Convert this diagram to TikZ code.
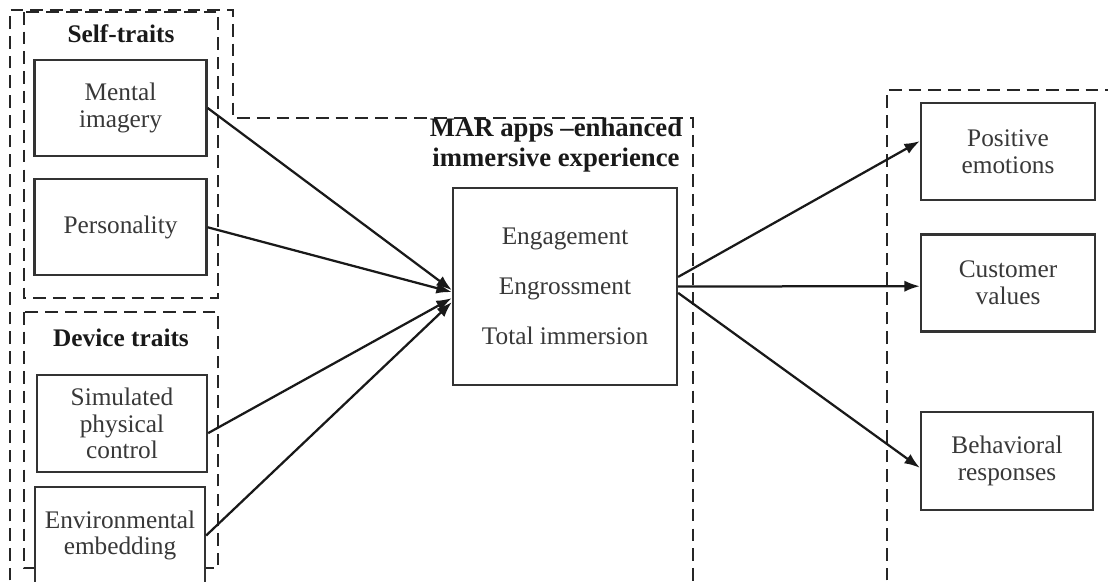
\documentclass[tikz,border=0pt]{standalone}
\usepackage{fontspec}
\setmainfont{Liberation Serif}
\usepackage{tikz}
\usetikzlibrary{arrows.meta, positioning, calc}

\definecolor{boxline}{HTML}{333333}
\definecolor{boxtext}{HTML}{383838}

\begin{document}
\begin{tikzpicture}[x=0.025cm, y=-0.025cm,
    trait/.style={rectangle, draw=boxline, fill=white, line width=1.6pt, text=boxtext,
        minimum width=4.3cm, minimum height=2.4cm, align=center, inner sep=0pt,
        font=\fontsize{18}{19}\selectfont},
    group/.style={draw=black!85, line width=1.5pt, dash pattern=on 9pt off 5pt},
    title/.style={font=\fontsize{18}{20.5}\selectfont\bfseries, text=black!90, align=center},
    link/.style={-{Latex[length=11pt,width=8pt]}, line width=1.6pt, black!90}]
    \useasboundingbox (0,0) rectangle (1108,581);
    \clip (0,0) rectangle (1108,581);
    \fill[white] (0,0) rectangle (1108,581);

    % Gruppi tratteggiati
    \draw[group] (10,600) -- (10,10) -- (233,10) -- (233,118) -- (693,118) -- (693,600);
    \draw[group] (24,12) rectangle (218,298);
    \draw[group] (24,312) rectangle (218,568);
    \draw[group] (887,600) -- (887,90) -- (1120,90);

    % Titoli
    \node[title] (selft) at (121,34) {Self-traits};
    \node[title] (devt) at (121,338) {Device traits};
    \node[title, font=\fontsize{19}{21.5}\selectfont\bfseries] (mart) at (556,145) {MAR apps –enhanced\\immersive experience};

    % Tratti personali e del dispositivo
    \node[trait] (ment) at (120.5,108) {Mental\\imagery};
    \node[trait, below=0.525cm of ment] (pers) {Personality};
    \node[trait, minimum width=4.25cm, minimum height=2.43cm] (simu) at (122,423.5) {Simulated\\physical\\control};
    \node[trait, minimum width=4.25cm, minimum height=2.43cm] (envi) at (120,535.5) {Environmental\\embedding};

    % Esperienza immersiva
    \node[trait, minimum width=5.6cm, minimum height=4.93cm,
        font=\fontsize{18}{35.5}\selectfont] (immer) at (565,286.5) {Engagement\\Engrossment\\Total immersion};

    % Risposte
    \node[trait, minimum width=4.35cm, minimum height=2.43cm] (posi) at (1008,151.5) {Positive\\emotions};
    \node[trait, minimum width=4.35cm, minimum height=2.43cm, below=0.8cm of posi] (cust) {Customer\\values};
    \node[trait, minimum width=4.3cm, minimum height=2.45cm] (behav) at (1007,461) {Behavioral\\responses};

    % Frecce
    \draw[link] (ment.east) -- ([yshift=-0.09cm]immer.west);
    \draw[link] (pers.east) -- ([yshift=-0.14cm]immer.west);
    \draw[link] ([yshift=-0.24cm]simu.east) -- ([yshift=-0.29cm]immer.west);
    \draw[link] (envi.east) -- ([yshift=-0.39cm]immer.west);
    \draw[link] ([yshift=0.24cm]immer.east) -- ([yshift=0.26cm]posi.west);
    \draw[link] (immer.east) -- ([yshift=-0.08cm]cust.west);
    \draw[link] ([yshift=-0.16cm]immer.east) -- ([yshift=-0.17cm]behav.west);
\end{tikzpicture}
\end{document}
